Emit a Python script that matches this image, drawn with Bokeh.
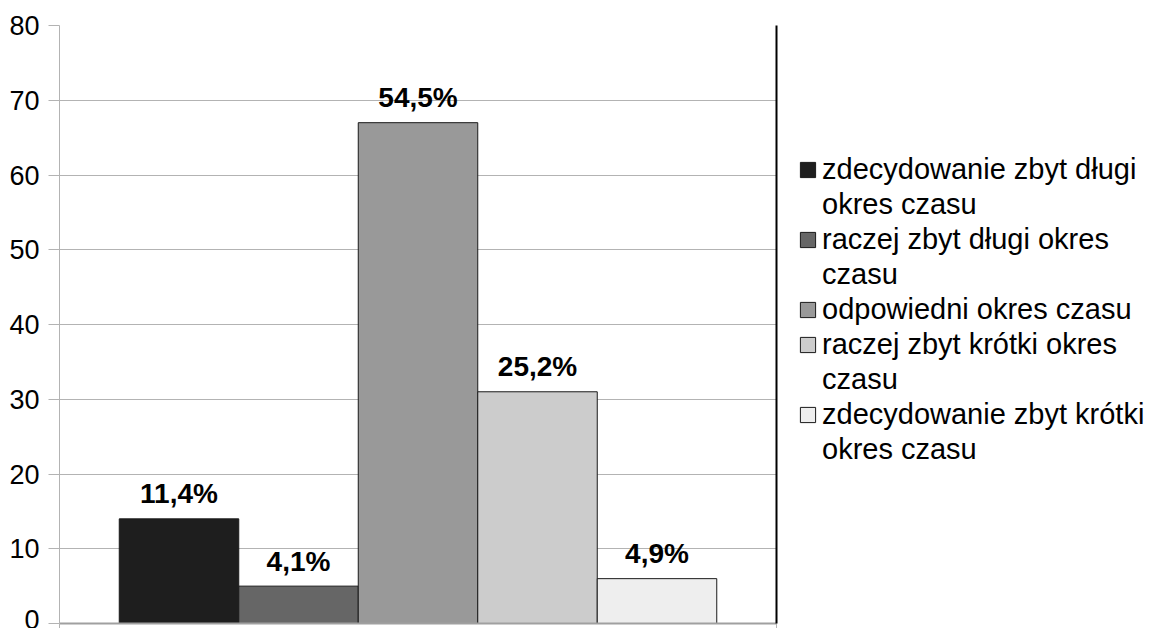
from bokeh.plotting import figure
from bokeh.models import (ColumnDataSource, Range1d, Legend, LegendItem, LinearAxis,
                          FixedTicker)
from bokeh.layouts import row
from bokeh.core.properties import value
from bokeh.embed import file_html
from bokeh.resources import INLINE

# legend lines: each category's label split over the lines shown in the legend
categories = [["zdecydowanie zbyt długi", "okres czasu"],
              ["raczej zbyt długi okres", "czasu"],
              ["odpowiedni okres czasu"],
              ["raczej zbyt krótki okres", "czasu"],
              ["zdecydowanie zbyt krótki", "okres czasu"]]
values = [14, 5, 67, 31, 6]
pct_labels = ["11,4%", "4,1%", "54,5%", "25,2%", "4,9%"]
colors = ["#1e1e1e", "#666666", "#999999", "#cccccc", "#eeeeee"]
positions = [1, 2, 3, 4, 5]
y_ticks = [0, 10, 20, 30, 40, 50, 60, 70, 80]

FONT = "Liberation Sans"

src = ColumnDataSource(dict(x=positions, top=values, color=colors, lab=pct_labels))

p = figure(width=780, height=628, output_backend="svg", toolbar_location=None,
           x_range=Range1d(0, 6), y_range=Range1d(0, 80),
           min_border_left=59, min_border_right=4, min_border_top=25, min_border_bottom=0)
p.outline_line_color = None
p.background_fill_color = "white"
p.border_fill_color = "white"

r = p.vbar(x="x", top="top", width=1.0, bottom=0, source=src, fill_color="color",
           line_color="#1a1a1a", line_width=1)

p.text(x="x", y="top", text="lab", source=src, text_align="center",
       text_baseline="alphabetic", y_offset=-25, text_font=value(FONT),
       text_font_size="28px", text_font_style="bold", text_color="black")

# y axis
ya = p.yaxis[0]
ya.ticker = FixedTicker(ticks=y_ticks)
ya.axis_line_color = "#b3b3b3"
ya.major_tick_line_color = "#b3b3b3"
ya.major_tick_out = 11
ya.major_tick_in = 0
ya.minor_tick_line_color = None
ya.major_label_standoff = 9
ya.major_label_text_font = FONT
ya.major_label_text_font_size = "27px"
ya.major_label_text_color = "black"

# x axis
xa = p.xaxis[0]
xa.ticker = FixedTicker(ticks=[0, 6])
xa.axis_line_color = "#a0a0a0"
xa.axis_line_width = 2
xa.major_tick_line_color = "#b3b3b3"
xa.major_tick_out = 5
xa.major_tick_in = 0
xa.minor_tick_line_color = None
xa.major_label_overrides = {0: "", 6: ""}
xa.major_label_standoff = 0

# right border
ra = LinearAxis(ticker=FixedTicker(ticks=[]), axis_line_color="black", axis_line_width=2,
                major_tick_line_color=None, minor_tick_line_color=None,
                major_label_standoff=0)
p.add_layout(ra, "right")

p.xgrid.grid_line_color = None
p.ygrid.grid_line_color = "#b3b3b3"
p.ygrid.ticker = FixedTicker(ticks=y_ticks)

# legend panel (hidden renderers only supply the legend swatches)
q = figure(width=372, height=628, output_backend="svg", toolbar_location=None,
           x_range=Range1d(0, 6), y_range=Range1d(0, 80),
           x_axis_location=None, y_axis_location=None,
           min_border_left=0, min_border_right=0, min_border_top=0, min_border_bottom=0)
q.outline_line_color = None
q.grid.visible = False
q.border_fill_color = "white"

sw = q.vbar(x="x", top="top", width=1.0, source=src, fill_color="color",
            line_color="#1a1a1a", visible=False)
blank = q.vbar(x="x", top="top", width=1.0, source=src, fill_alpha=0, line_alpha=0,
               visible=False)

items = []
for i, lines in enumerate(categories):
    items.append(LegendItem(label=lines[0], renderers=[sw], index=i))
    for extra in lines[1:]:
        items.append(LegendItem(label=extra, renderers=[blank], index=i))

legend = Legend(items=items, location=(18, 156), orientation="vertical",
                label_text_font=FONT, label_text_font_size="29px",
                label_text_color="black", glyph_width=19, glyph_height=19,
                label_standoff=5, label_height=35, spacing=0, padding=0, margin=0,
                border_line_color=None, background_fill_alpha=0,
                inactive_fill_alpha=0, click_policy="none")
q.add_layout(legend, "center")

layout = row(p, q, spacing=0)
open("out.html", "w").write(file_html(layout, INLINE))
